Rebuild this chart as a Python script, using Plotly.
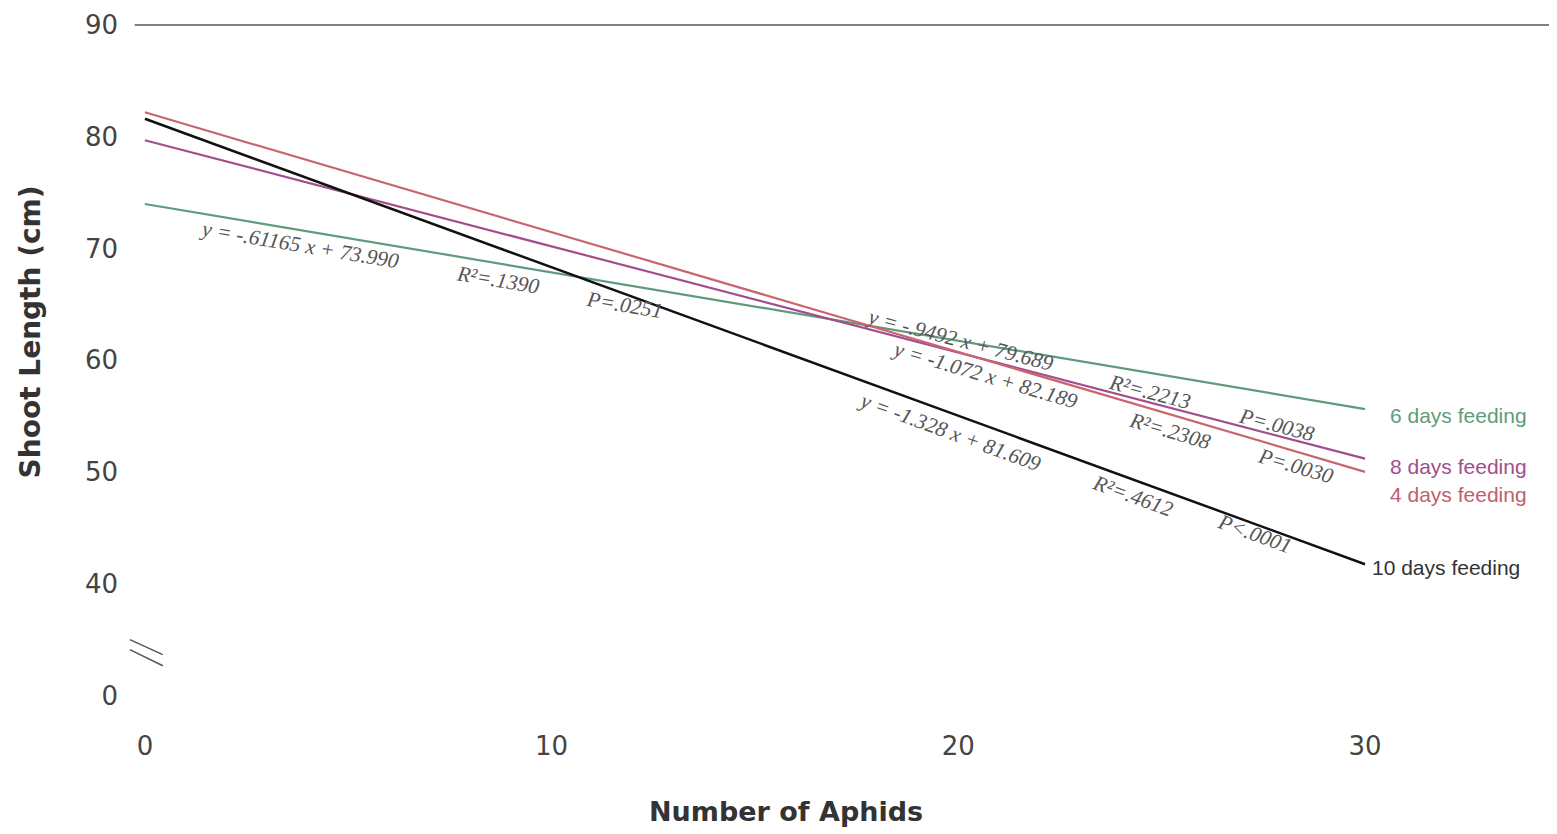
import plotly.graph_objects as go

# ---- data ----
x_ends = [0, 30]
series_names = ["6 days feeding", "8 days feeding", "4 days feeding", "10 days feeding"]
series_colors = ["#5f9b7b", "#a34d8f", "#c9656f", "#111111"]
series_widths = [2.2, 2.2, 2.2, 2.5]
label_colors = ["#5f9b7b", "#a34d8f", "#c0606a", "#333333"]
y_green = [73.990, 55.64]
y_purple = [79.689, 51.21]
y_salmon = [82.189, 50.03]
y_black = [81.609, 41.77]
series_values = [y_green, y_purple, y_salmon, y_black]

y_tickvals = [30, 40, 50, 60, 70, 80, 90]
y_ticktext = ["0", "40", "50", "60", "70", "80", "90"]
x_tickvals = [0, 10, 20, 30]

# equation / stats labels: text, x, y, angle
stat_texts = ["y = -.61165 x + 73.990", "R²=.1390", "P=.0251",
              "y = -.9492 x + 79.689", "R²=.2213", "P=.0038",
              "y = -1.072 x + 82.189", "R²=.2308", "P=.0030",
              "y = -1.328 x + 81.609", "R²=.4612", "P<.0001"]
stat_x = [3.81, 8.68, 11.78, 20.04, 24.71, 27.83, 20.65, 25.2, 28.3, 19.79, 24.29, 27.29]
stat_y = [70.32, 67.19, 64.96, 61.82, 57.17, 54.22, 58.69, 53.68, 50.55, 53.6, 47.87, 44.47]
stat_angle = [9.5, 9.5, 9.5, 14.6, 14.6, 14.6, 16.4, 16.4, 16.4, 20.1, 20.1, 20.1]

label_x = [30.56, 30.56, 30.56, 30.12]
label_y = [55.03, 50.47, 48.05, 41.52]

fig = go.Figure()
for name, col, w, vals in zip(series_names, series_colors, series_widths, series_values):
    fig.add_trace(go.Scatter(x=x_ends, y=vals, mode="lines", name=name,
                             line=dict(color=col, width=w), showlegend=False))

ann = []
for t, xx, yy, a in zip(stat_texts, stat_x, stat_y, stat_angle):
    ann.append(dict(x=xx, y=yy, xref="x", yref="y", text="<i>" + t + "</i>",
                    showarrow=False, textangle=a,
                    font=dict(family="Liberation Serif", size=21.5, color="#555555")))
for name, col, xx, yy in zip(series_names, label_colors, label_x, label_y):
    ann.append(dict(x=xx, y=yy, xref="x", yref="y", text=name, showarrow=False,
                    xanchor="left", yanchor="middle",
                    font=dict(family="Liberation Sans", size=21, color=col)))
ann.append(dict(x=-0.0805, y=0.5535, xref="paper", yref="paper",
                text="<b>Shoot Length (cm)</b>", showarrow=False, textangle=-90,
                font=dict(family="DejaVu Sans", size=28, color="#333333")))
ann.append(dict(x=0.4608, y=-0.147, xref="paper", yref="paper",
                text="<b>Number of Aphids</b>", showarrow=False,
                font=dict(family="DejaVu Sans", size=27, color="#333333")))

shapes = [
    dict(type="line", xref="x", yref="y", x0=-0.25, x1=34.72, y0=90, y1=90,
         line=dict(color="#555555", width=1.5)),
    dict(type="line", xref="x", yref="y", x0=-0.37, x1=0.44, y0=35.02, y1=33.68,
         line=dict(color="#555555", width=1.5)),
    dict(type="line", xref="x", yref="y", x0=-0.37, x1=0.44, y0=34.13, y1=32.69,
         line=dict(color="#555555", width=1.5)),
]

fig.update_layout(
    width=1549, height=826,
    margin=dict(l=119, r=0, t=7, b=109),
    paper_bgcolor="white", plot_bgcolor="white",
    annotations=ann, shapes=shapes,
    xaxis=dict(range=[-0.44, 34.72], tickvals=x_tickvals, showgrid=False,
               zeroline=False, showline=False, ticks="", ticklabelstandoff=3,
               tickfont=dict(family="DejaVu Sans", size=26, color="#444444")),
    yaxis=dict(range=[27.39, 90.89], tickvals=y_tickvals, ticktext=y_ticktext,
               showgrid=False, zeroline=False, showline=False, ticks="",
               ticklabelstandoff=8,
               tickfont=dict(family="DejaVu Sans", size=26, color="#444444")),
)

fig.write_html("out.html")
